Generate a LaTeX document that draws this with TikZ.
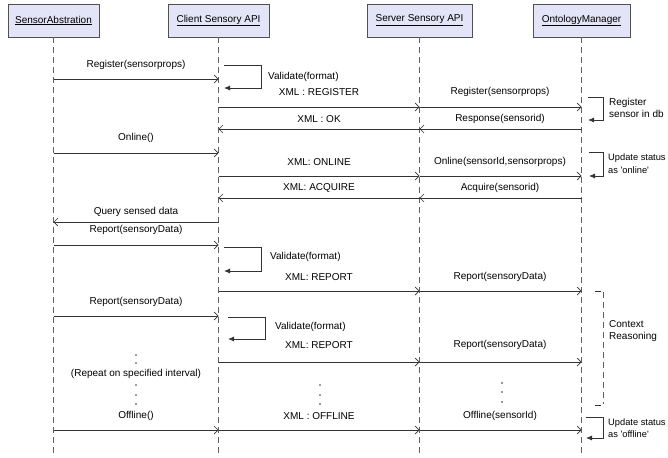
\documentclass[tikz,border=0pt]{standalone}
\usepackage{fontspec}
\setmainfont{Liberation Sans}
\usetikzlibrary{arrows.meta}
\definecolor{boxfill}{HTML}{E4E4F8}
\definecolor{boxline}{HTML}{505050}
\definecolor{lifecol}{HTML}{606060}
\tikzset{
  header/.style={draw=boxline,fill=boxfill,line width=0.9pt,inner sep=0pt,minimum height=33pt,font=\fontsize{10}{11}\selectfont},
  lifeline/.style={draw=lifecol,line width=0.9pt,dash pattern=on 6pt off 4pt},
  msg/.style={draw=black!80,line width=0.8pt,-{Straight Barb[length=4pt,width=8pt,line width=0.7pt]}},
  selfmsg/.style={draw=black!80,line width=0.8pt,-{Latex[length=6pt,width=5pt]}},
  lbl/.style={font=\fontsize{10}{11}\selectfont,inner sep=0pt},
  note/.style={font=\fontsize{10}{12.5}\selectfont,inner sep=0pt,align=left,anchor=west},
  snote/.style={note,font=\fontsize{9.3}{12.5}\selectfont},
  dot/.style={circle,fill=black!80,inner sep=0pt,minimum size=1.6pt},
}
\begin{document}
\begin{tikzpicture}[x=1pt,y=-1pt]
\useasboundingbox[fill=white] (0,0) rectangle (668,457);
% headers
\node[header,minimum width=91pt] (sa) at (53.5,20.5) {\underline{SensorAbstration}};
\node[header,minimum width=101pt] (cl) at (218.5,20.5) {\underline{Client Sensory API}};
\node[header,minimum width=105pt] (sv) at (419.5,20.5) {\underline{Server Sensory API}};
\node[header,minimum width=97pt] (om) at (581.5,20.5) {\underline{OntologyManager}};
% lifelines
\coordinate (saend) at (53.5,457);
\coordinate (clend) at (218.5,457);
\coordinate (svend) at (419.5,457);
\coordinate (omend) at (581.5,457);
\draw[lifeline] (sa.south) -- (saend);
\draw[lifeline] (cl.south) -- (clend);
\draw[lifeline] (sv.south) -- (svend);
\draw[lifeline] (om.south) -- (omend);

% 1 Register
\draw[msg] (sa |- 0,79) -- (cl |- 0,79);
\node[lbl] (l1) at (136,65) {Register(sensorprops)};
% validate 1
\draw[selfmsg] (224,65) -- (261,65) -- (261,88) -- (224,88);
\node[note] (v1) at (268,77) {Validate(format)};
% 2 register
\draw[msg] (cl |- 0,107) -- (sv |- 0,107);
\draw[msg] (sv |- 0,107) -- (om |- 0,107);
\node[lbl] (l2a) at (319,92) {XML : REGISTER};
\node[lbl] (l2b) at (500,92) {Register(sensorprops)};
\draw[selfmsg] (588,97) -- (603,97) -- (603,120) -- (588,120);
\node[note] (n1) at (609,108) {Register\\sensor in db};
% 3 ok
\draw[msg] (om |- 0,129) -- (sv |- 0,129);
\draw[msg] (sv |- 0,129) -- (cl |- 0,129);
\node[lbl] (l3a) at (319,119) {XML : OK};
\node[lbl] (l3b) at (500,119) {Response(sensorid)};
% 4 online
\draw[msg] (sa |- 0,153) -- (cl |- 0,153);
\node[lbl] (l4) at (136,138) {Online()};
% 5 online xml
\draw[msg] (cl |- 0,176) -- (sv |- 0,176);
\draw[msg] (sv |- 0,176) -- (om |- 0,176);
\node[lbl] (l5a) at (319,162) {XML: ONLINE};
\node[lbl] (l5b) at (500,162) {Online(sensorId,sensorprops)};
\draw[selfmsg] (589,152) -- (603,152) -- (603,176) -- (589,176);
\node[snote] (n2) at (608,163.5) {Update status\\as \textquotesingle online\textquotesingle};
% 6 acquire
\draw[msg] (om |- 0,198) -- (sv |- 0,198);
\draw[msg] (sv |- 0,198) -- (cl |- 0,198);
\node[lbl] (l6a) at (319,188) {XML: ACQUIRE};
\node[lbl] (l6b) at (500,188) {Acquire(sensorid)};
% 7 query
\draw[msg] (cl |- 0,222) -- (sa |- 0,222);
\node[lbl] (l7) at (136,212) {Query sensed data};
% 8 report
\draw[msg] (sa |- 0,245) -- (cl |- 0,245);
\node[lbl] (l8) at (136,230) {Report(sensoryData)};
\draw[selfmsg] (224,247) -- (261,247) -- (261,271) -- (224,271);
\node[note] (v2) at (270,257) {Validate(format)};
% 9 xml report
\draw[msg] (cl |- 0,291) -- (sv |- 0,291);
\draw[msg] (sv |- 0,291) -- (om |- 0,291);
\node[lbl] (l9a) at (319,277) {XML: REPORT};
\node[lbl] (l9b) at (500,277) {Report(sensoryData)};
% context reasoning bracket
\draw[line width=0.9pt,draw=black!80] (595,291) -- (601,291);
\draw[line width=0.9pt,draw=black!80] (595,405) -- (601,405);
\draw[lifeline] (603,292) -- (603,404);
\node[note] (n3) at (609,331) {Context\\Reasoning};
% 10 report
\draw[msg] (sa |- 0,316) -- (cl |- 0,316);
\node[lbl] (l10) at (136,302) {Report(sensoryData)};
\draw[selfmsg] (228,317) -- (265,317) -- (265,339) -- (228,339);
\node[note] (v3) at (275,327) {Validate(format)};
% 11 xml report
\draw[msg] (cl |- 0,362) -- (sv |- 0,362);
\draw[msg] (sv |- 0,362) -- (om |- 0,362);
\node[lbl] (l11a) at (319,345) {XML: REPORT};
\node[lbl] (l11b) at (500,345) {Report(sensoryData)};
% dots and repeat
\node[dot] (d1) at (136,355) {};
\node[dot] (d2) at (136,363) {};
\node[lbl] (rep) at (136,374) {(Repeat on specified interval)};
\node[dot] (d3) at (136,385) {};
\node[dot] (d4) at (136,395) {};
\node[dot] (d5) at (136,404) {};
\node[dot] (d6) at (320,385) {};
\node[dot] (d7) at (320,395) {};
\node[dot] (d8) at (320,404) {};
\node[dot] (d9) at (502,383) {};
\node[dot] (d10) at (502,392) {};
\node[dot] (d11) at (502,402) {};
% 12 offline
\draw[msg] (sa |- 0,430) -- (cl |- 0,430);
\draw[msg] (cl |- 0,430) -- (sv |- 0,430);
\draw[msg] (sv |- 0,430) -- (om |- 0,430);
\node[lbl] (l12a) at (136,416) {Offline()};
\node[lbl] (l12b) at (319,416) {XML : OFFLINE};
\node[lbl] (l12c) at (500,416) {Offline(sensorId)};
\draw[selfmsg] (586,417) -- (603,417) -- (603,438) -- (586,438);
\node[snote] (n4) at (608,428) {Update status\\as \textquotesingle offline\textquotesingle};
\end{tikzpicture}
\end{document}
